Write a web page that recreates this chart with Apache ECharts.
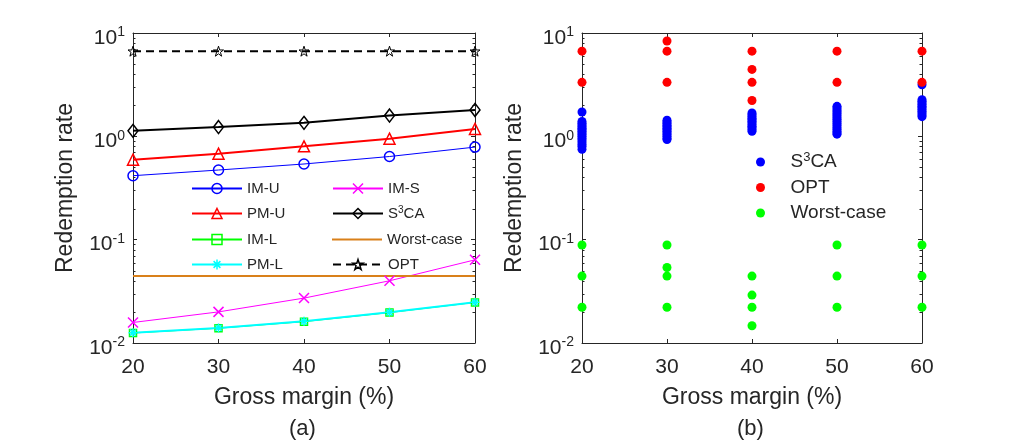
<!DOCTYPE html>
<html><head><meta charset="utf-8">
<script src="https://cdn.jsdelivr.net/npm/echarts@6/dist/echarts.min.js"></script>
<style>html,body{margin:0;padding:0;background:#fff;}#c{width:1020px;height:444px;}</style>
</head><body><div id="c"></div>
<script>
// ---------- data ----------
const margins = [20, 30, 40, 50, 60];
const xTicks = [20, 30, 40, 50, 60];
const yTicks = [0.01, 0.1, 1, 10];

// panel (a)
const imU   = [0.416, 0.472, 0.540, 0.638, 0.787];
const pmU   = [0.594, 0.679, 0.800, 0.950, 1.180];
const imL   = [0.0125, 0.0139, 0.0161, 0.0197, 0.0247];
const pmL   = [0.0126, 0.0140, 0.0162, 0.0198, 0.0248];
const imS   = [0.0158, 0.0200, 0.0272, 0.0400, 0.0638];
const s3ca  = [1.13, 1.23, 1.35, 1.59, 1.80];
const worst = [0.0444, 0.0444, 0.0444, 0.0444, 0.0444];
const opt   = [6.67, 6.67, 6.67, 6.67, 6.67];

// panel (b): scatter values per gross margin
const s3caB_20 = [1.72, 1.39, 1.34, 1.29, 1.24, 1.20, 1.16, 1.12, 1.08, 1.04, 1.00, 0.96, 0.92, 0.88, 0.84, 0.80, 0.75];
const s3caB_30 = [1.43, 1.38, 1.33, 1.28, 1.24, 1.20, 1.16, 1.12, 1.08, 1.04, 1.00, 0.96, 0.93];
const s3caB_40 = [1.68, 1.62, 1.56, 1.50, 1.45, 1.40, 1.35, 1.30, 1.25, 1.21, 1.16, 1.12];
const s3caB_50 = [1.95, 1.88, 1.80, 1.73, 1.66, 1.59, 1.52, 1.46, 1.40, 1.34, 1.28, 1.22, 1.17, 1.12, 1.08, 1.05];
const s3caB_60 = [3.16, 2.26, 2.18, 2.10, 2.03, 1.96, 1.89, 1.82, 1.75, 1.68, 1.61, 1.55];
const optB_20 = [6.67, 3.33];
const optB_30 = [8.37, 6.67, 3.33];
const optB_40 = [6.67, 4.44, 3.33, 2.22];
const optB_50 = [6.67, 3.33];
const optB_60 = [6.67, 3.33];
const worstB_20 = [0.0889, 0.0444, 0.0222];
const worstB_30 = [0.0889, 0.0538, 0.0444, 0.0222];
const worstB_40 = [0.0444, 0.0291, 0.0222, 0.0147];
const worstB_50 = [0.0889, 0.0444, 0.0222];
const worstB_60 = [0.0889, 0.0444, 0.0222];

// minor log ticks (axis decoration)
const minorTickValues = [0.02,0.03,0.04,0.05,0.06,0.07,0.08,0.09,0.2,0.3,0.4,0.5,0.6,0.7,0.8,0.9,2,3,4,5,6,7,8,9];

// ---------- helpers ----------
const FONT = 'Liberation Sans, Arial, Helvetica, sans-serif';
const TXT = '#262626';
const NOFILL = 'rgba(255,255,255,0)';
const pairs = (x, ys) => ys.map(y => [x, y]);
const lineData = ys => margins.map((m, i) => [m, ys[i]]);

const SYM_X = 'path://M0,0L10,10M10,0L0,10';
const SYM_AST = 'path://M5,0L5,10M0,5L10,5M1.6,1.6L8.4,8.4M8.4,1.6L1.6,8.4';
const SYM_STAR = 'path://M5,0L6.18,3.53L9.9,3.53L6.9,5.73L8.04,9.27L5,7.08L1.96,9.27L3.1,5.73L0.1,3.53L3.82,3.53Z';

function xAxes(gi) {
  return [
    { type: 'value', gridIndex: gi, min: 20, max: 60, interval: 10, position: 'bottom',
      axisLine: { lineStyle: { color: TXT, width: 1 } },
      axisTick: { inside: true, length: 4, lineStyle: { color: TXT } },
      splitLine: { show: false },
      axisLabel: { fontSize: 21, color: TXT, fontFamily: FONT, margin: 14,
        customValues: xTicks },
      name: 'Gross margin (%)', nameLocation: 'middle', nameGap: 43,
      nameTextStyle: { fontSize: 23, color: TXT, fontFamily: FONT } },
    { type: 'value', gridIndex: gi, min: 20, max: 60, interval: 10, position: 'top',
      axisLine: { lineStyle: { color: TXT, width: 1 } },
      axisTick: { inside: true, length: 4, lineStyle: { color: TXT } },
      splitLine: { show: false }, axisLabel: { show: false } }
  ];
}
function yAxes(gi) {
  return [
    { type: 'log', logBase: 10, gridIndex: gi, min: 0.01, max: 10, position: 'left',
      axisLine: { show: true, lineStyle: { color: TXT, width: 1 } },
      axisTick: { show: true, inside: true, length: 4, lineStyle: { color: TXT } },
      splitLine: { show: false },
      axisLabel: { color: TXT, fontFamily: FONT, margin: 8, padding: [10, 0, 0, 0],
        formatter: v => '{b|10}{s|' + Math.round(Math.log10(v)) + '}',
        rich: { b: { fontSize: 21, color: TXT, fontFamily: FONT },
                s: { fontSize: 14, color: TXT, fontFamily: FONT, padding: [0, 0, 11, 0] } } },
      name: 'Redemption rate', nameLocation: 'middle', nameGap: 56,
      nameTextStyle: { fontSize: 23, color: TXT, fontFamily: FONT } },
    { type: 'log', logBase: 10, gridIndex: gi, min: 0.01, max: 10, position: 'right',
      axisLine: { show: true, lineStyle: { color: TXT, width: 1 } },
      axisTick: { show: true, inside: true, length: 4, lineStyle: { color: TXT } },
      splitLine: { show: false }, axisLabel: { show: false } }
  ];
}
function minorTicks(xi, yi) {
  return { type: 'custom', name: 'minor' + xi, xAxisIndex: xi, yAxisIndex: yi, silent: true, z: 1,
    data: minorTickValues.map(v => [20, v]),
    renderItem: function (params, api) {
      const pL = api.coord([20, api.value(1)]);
      const pR = api.coord([60, api.value(1)]);
      const y = Math.round(pL[1]) + 0.5;
      return { type: 'group', children: [
        { type: 'line', shape: { x1: pL[0], y1: y, x2: pL[0] + 2.5, y2: y }, style: { stroke: TXT, lineWidth: 1 } },
        { type: 'line', shape: { x1: pR[0], y1: y, x2: pR[0] - 2.5, y2: y }, style: { stroke: TXT, lineWidth: 1 } }
      ] };
    } };
}
function lineSeries(name, ys, color, width, symbol, size, extra) {
  return Object.assign({
    type: 'line', name: name, xAxisIndex: 0, yAxisIndex: 0, data: lineData(ys),
    symbol: symbol, symbolSize: size, showSymbol: true, animation: false,
    lineStyle: { color: color, width: width },
    itemStyle: { color: NOFILL, borderColor: color, borderWidth: 1.5 },
    emphasis: { disabled: true }
  }, extra || {});
}
function scatterSeries(name, data, color) {
  return { type: 'scatter', name: name, xAxisIndex: 2, yAxisIndex: 2, data: data,
    symbol: 'circle', symbolSize: 9, animation: false,
    itemStyle: { color: color, opacity: 1 }, emphasis: { disabled: true } };
}

const chart = echarts.init(document.getElementById('c'), null, { renderer: 'canvas' });
const supRich = (n, s, pad) => ({
  n: { fontSize: n, color: TXT, fontFamily: FONT },
  s: { fontSize: s, color: TXT, fontFamily: FONT, padding: [0, 0, pad, 0] }
});
const displayName = name => {
  const base = name.replace('_b', '');
  return base === 'S3CA' ? '{n|S}{s|3}{n|CA}' : base;
};

chart.setOption({
  backgroundColor: '#fff',
  animation: false,
  grid: [
    { left: 133, top: 33, width: 342, height: 310 },
    { left: 582, top: 33, width: 340, height: 310 }
  ],
  xAxis: [...xAxes(0), ...xAxes(1)],
  yAxis: [...yAxes(0), ...yAxes(1)],
  legend: [
    { left: 191, top: 181, width: 285, orient: 'horizontal', itemGap: 10, padding: 0,
      itemWidth: 50, itemHeight: 12.5, selectedMode: false,
      itemStyle: { borderWidth: 1.5 },
      data: ['IM-U', 'IM-S', 'PM-U', 'S3CA', 'IM-L',
             { name: 'Worst-case', icon: 'path://M0,0H50V2H0Z' }, 'PM-L', 'OPT'],
      formatter: displayName,
      textStyle: { fontSize: 15, color: TXT, fontFamily: FONT, width: 75, lineHeight: 15,
        rich: supRich(15, 10, 7) } },
    { left: 756, top: 151, orient: 'vertical', itemGap: 3.5, padding: 0,
      itemWidth: 50, itemHeight: 9, selectedMode: false,
      data: ['S3CA_b', 'OPT_b', 'Worst-case_b'],
      formatter: displayName,
      textStyle: { fontSize: 19, color: TXT, fontFamily: FONT, lineHeight: 22,
        rich: supRich(19, 13, 9) } }
  ],
  graphic: [
    { type: 'text', left: 304 - 15, top: 418, style: { text: '(a)', fontSize: 22, fill: TXT, fontFamily: FONT } },
    { type: 'text', left: 752 - 15, top: 418, style: { text: '(b)', fontSize: 22, fill: TXT, fontFamily: FONT } }
  ],
  series: [
    minorTicks(0, 0),
    minorTicks(2, 2),
    lineSeries('IM-U', imU, '#0000FF', 1, 'circle', 10),
    lineSeries('PM-U', pmU, '#FF0000', 2, 'triangle', 11),
    lineSeries('IM-L', imL, '#00FF00', 1, 'rect', 7),
    lineSeries('PM-L', pmL, '#00FFFF', 2, SYM_AST, 9),
    lineSeries('IM-S', imS, '#FF00FF', 1, SYM_X, 10),
    lineSeries('S3CA', s3ca, '#000000', 2, 'diamond', [10, 13]),
    lineSeries('Worst-case', worst, '#D9801A', 2, 'none', 0,
      { itemStyle: { color: '#D9801A' } }),
    lineSeries('OPT', opt, '#000000', 2, SYM_STAR, 10,
      { lineStyle: { color: '#000000', width: 2, type: [8, 5] },
        itemStyle: { color: NOFILL, borderColor: '#000000', borderWidth: 1 } }),
    scatterSeries('S3CA_b', [...pairs(20, s3caB_20), ...pairs(30, s3caB_30), ...pairs(40, s3caB_40),
      ...pairs(50, s3caB_50), ...pairs(60, s3caB_60)], '#0000FF'),
    scatterSeries('OPT_b', [...pairs(20, optB_20), ...pairs(30, optB_30), ...pairs(40, optB_40),
      ...pairs(50, optB_50), ...pairs(60, optB_60)], '#FF0000'),
    scatterSeries('Worst-case_b', [...pairs(20, worstB_20), ...pairs(30, worstB_30), ...pairs(40, worstB_40),
      ...pairs(50, worstB_50), ...pairs(60, worstB_60)], '#00FF00')
  ]
});
</script></body></html>
